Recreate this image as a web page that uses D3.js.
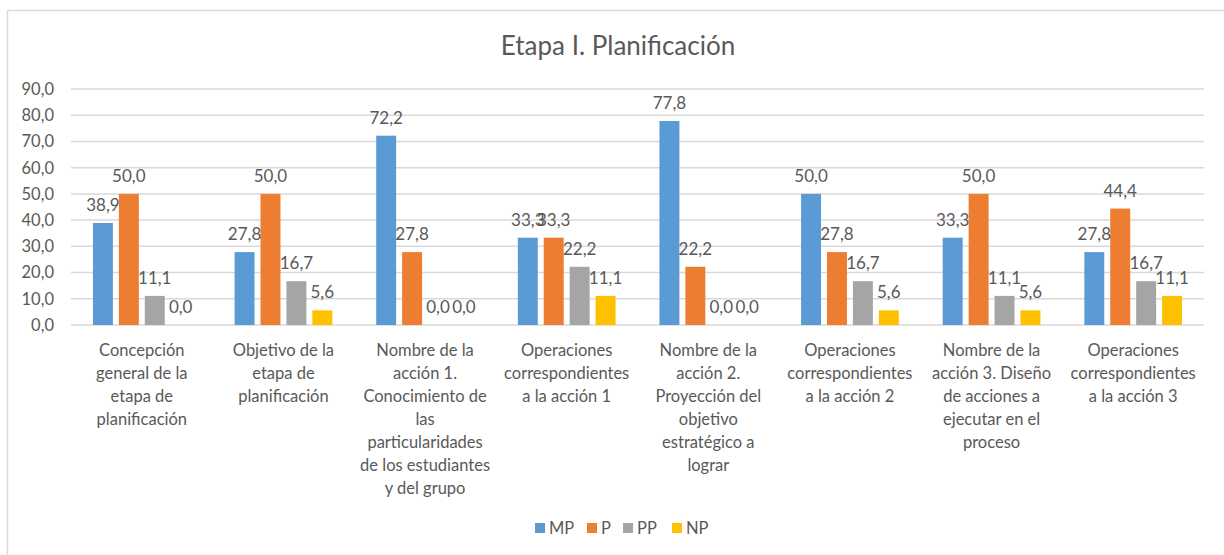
<!DOCTYPE html>
<html>
<head>
<meta charset="utf-8">
<script src="https://cdn.jsdelivr.net/npm/d3@7"></script>
<style>
  body { margin: 0; background: #fff; }
  text { font-family: Lato, "Open Sans", sans-serif; fill: #595959; }
</style>
</head>
<body>
<svg id="chart" width="1224" height="555"></svg>
<script>
'use strict';

// categories, line breaks as in the original
const categories = [
  "Concepción\ngeneral de la\netapa de\nplanificación",
  "Objetivo de la\netapa de\nplanificación",
  "Nombre de la\nacción 1.\nConocimiento de\nlas\nparticularidades\nde los estudiantes\ny del grupo",
  "Operaciones\ncorrespondientes\na la acción 1",
  "Nombre de la\nacción 2.\nProyección del\nobjetivo\nestratégico a\nlograr",
  "Operaciones\ncorrespondientes\na la acción 2",
  "Nombre de la\nacción 3. Diseño\nde acciones a\nejecutar en el\nproceso",
  "Operaciones\ncorrespondientes\na la acción 3"
];

const seriesNames = ["MP", "P", "PP", "NP"];
const seriesColors = ["#5B9BD5", "#ED7D31", "#A5A5A5", "#FFC000"];

const valuesMP = [38.9, 27.8, 72.2, 33.3, 77.8, 50.0, 33.3, 27.8];
const valuesP  = [50.0, 50.0, 27.8, 33.3, 22.2, 27.8, 50.0, 44.4];
const valuesPP = [11.1, 16.7, 0.0, 22.2, 0.0, 16.7, 11.1, 16.7];
const valuesNP = [0.0, 5.6, 0.0, 11.1, 0.0, 5.6, 5.6, 11.1];

const yTicks = [0, 10, 20, 30, 40, 50, 60, 70, 80, 90];
const title = "Etapa I. Planificación";

const allValues = [valuesMP, valuesP, valuesPP, valuesNP];

let svg = d3.select("#chart");

// chart frame
svg.append("rect")
  .attr("x", 7.5).attr("y", 10.5)
  .attr("width", 1240).attr("height", 560)
  .attr("fill", "#fff")
  .attr("stroke", "#D9D9D9")
  .attr("stroke-width", 1.5);

let plot = {left: 71, right: 1204, top: 89, bottom: 325};

let x0 = d3.scaleBand().domain(d3.range(categories.length)).range([plot.left, plot.right]);
let groupW = x0.bandwidth() * 0.69;
let x1 = d3.scaleBand().domain(d3.range(seriesNames.length)).range([0, groupW]).paddingInner(0.23);
let y = d3.scaleLinear().domain([0, 90]).range([plot.bottom, plot.top]);

let fmt = v => d3.format(".1f")(v).replace(".", ",");

// gridlines
svg.append("g")
  .selectAll("line")
  .data(yTicks)
  .enter().append("line")
  .attr("x1", plot.left).attr("x2", plot.right)
  .attr("y1", d => y(d)).attr("y2", d => y(d))
  .attr("stroke", "#D9D9D9")
  .attr("stroke-width", 1.5);

// y tick labels
svg.append("g")
  .selectAll("text")
  .data(yTicks)
  .enter().append("text")
  .attr("x", 54)
  .attr("y", d => y(d))
  .attr("dy", "0.36em")
  .attr("text-anchor", "end")
  .style("font-size", "16.5px")
  .text(d => fmt(d));

// title
svg.append("text")
  .attr("x", 618).attr("y", 55)
  .attr("text-anchor", "middle")
  .style("font-size", "26px")
  .text(title);

// bars + value labels
let groups = svg.append("g")
  .selectAll("g")
  .data(categories.map((c, i) => i))
  .enter().append("g")
  .attr("transform", i => "translate(" + (x0(i) + (x0.bandwidth() - groupW) / 2) + ",0)");

groups.selectAll("rect")
  .data(i => allValues.map((vals, s) => ({s: s, v: vals[i]})))
  .enter().append("rect")
  .attr("x", d => x1(d.s))
  .attr("y", d => y(d.v))
  .attr("width", x1.bandwidth())
  .attr("height", d => plot.bottom - y(d.v))
  .attr("fill", d => seriesColors[d.s]);

groups.selectAll("text")
  .data(i => allValues.map((vals, s) => ({s: s, v: vals[i]})))
  .enter().append("text")
  .attr("x", d => x1(d.s) + x1.bandwidth() / 2)
  .attr("y", d => y(d.v) - 12)
  .attr("text-anchor", "middle")
  .style("font-size", "17px")
  .text(d => fmt(d.v));

// category labels
let catLabels = svg.append("g")
  .selectAll("text")
  .data(categories)
  .enter().append("text")
  .attr("text-anchor", "middle")
  .attr("x", (d, i) => x0(i) + x0.bandwidth() / 2)
  .attr("y", 356)
  .style("font-size", "16.5px");

catLabels.selectAll("tspan")
  .data(d => d.split("\n"))
  .enter().append("tspan")
  .attr("x", function () { return this.parentNode.getAttribute("x"); })
  .attr("dy", (d, j) => j === 0 ? 0 : 23)
  .text(d => d);

// legend
let legendX = [535, 587, 623, 672];
let legend = svg.append("g")
  .selectAll("g")
  .data(seriesNames)
  .enter().append("g")
  .attr("transform", (d, i) => "translate(" + legendX[i] + ",523)");

legend.append("rect")
  .attr("width", 10).attr("height", 10)
  .attr("fill", (d, i) => seriesColors[i]);

legend.append("text")
  .attr("x", 14).attr("y", 10.5)
  .style("font-size", "16.5px")
  .text(d => d);
</script>
</body>
</html>
